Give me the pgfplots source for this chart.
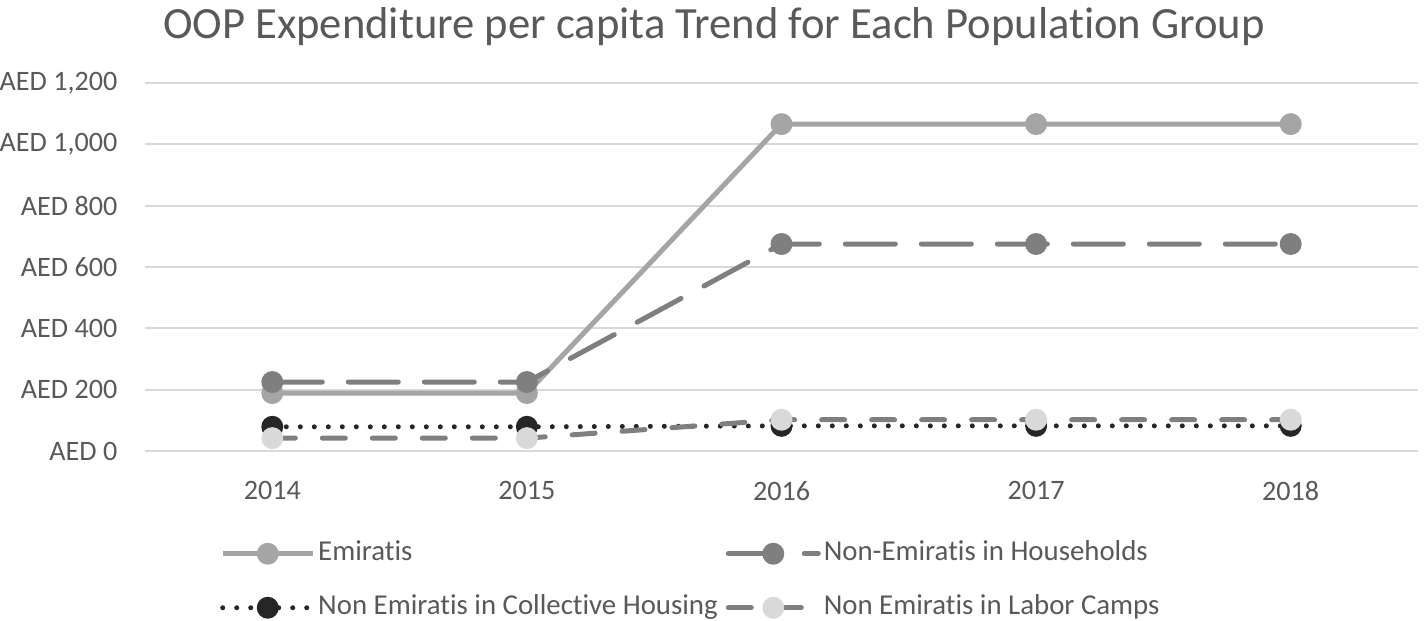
\documentclass[border=0pt]{standalone}
\usepackage{fontspec}
\setmainfont{Carlito}[Ligatures=NoCommon]
\usepackage{pgfplots}
\pgfplotsset{compat=1.18}
\definecolor{txt}{HTML}{595959}
\definecolor{gridc}{HTML}{D9D9D9}
\definecolor{emi}{HTML}{A5A5A5}
\definecolor{hh}{HTML}{7F7F7F}
\definecolor{colh}{HTML}{262626}
\definecolor{lab}{HTML}{D9D9D9}
\begin{document}
\begin{tikzpicture}
\begin{axis}[
  at={(0,0)}, anchor=south west,
  scale only axis, width=12.73cm, height=3.68cm,
  xmin=-0.5, xmax=4.5, ymin=0, ymax=1200,
  xtick={0,1,2,3,4}, xticklabels={2014,2015,2016,2017,2018},
  ytick={0,200,400,600,800,1000,1200},
  yticklabels={AED 0,AED 200,AED 400,AED 600,AED 800,{AED 1,000},{AED 1,200}},
  axis line style={draw=none},
  major tick length=0pt,
  ymajorgrids, grid style={gridc, line width=0.2mm},
  tick label style={font=\fontsize{8}{9.6}\selectfont, text=txt},
  yticklabel style={inner sep=0pt, xshift=-0.27cm},
  xticklabel style={inner sep=0pt, yshift=-0.3cm},
  title={OOP Expenditure per capita Trend for Each Population Group},
  title style={at={(axis description cs:0.447,1)}, anchor=base, yshift=0.23cm, font=\fontsize{12.7}{15}\selectfont, text=txt},
  clip=false,
  legend columns=2,
  legend cell align=left,
  legend image code/.code={\draw[mark repeat=2,mark phase=2,#1] plot coordinates {(0cm,0cm) (0.45cm,0cm) (0.9cm,0cm)};},
  legend style={draw=none, at={(axis description cs:0,0)}, anchor=north west, xshift=0.64cm, yshift=-0.82cm,
    font=\fontsize{8.2}{9.8}\selectfont, text=txt,
    nodes={inner sep=0pt, text height=2mm, text depth=0.6mm},
    /tikz/column sep=0.03cm, /tikz/every even column/.append style={column sep=0.08cm}, /tikz/row sep=2.8mm},
]
\addplot[emi, line width=0.5mm, mark=*, mark size=2.4pt, mark options={solid, fill=emi, draw=emi}]
  coordinates {(0,189) (1,189) (2,1066) (3,1066) (4,1066)};
\addlegendentry{Emiratis}
\addplot[hh, line width=0.5mm, line cap=round, dash pattern=on 5.0mm off 2.6mm, mark=*, mark size=2.4pt, mark options={solid, fill=hh, draw=hh}]
  coordinates {(0,225) (1,225) (2,675) (3,675) (4,675)};
\addlegendentry{Non-Emiratis in Households}
\addplot[colh, line width=0.5mm, line cap=round, dash pattern=on 0pt off 1.4mm, mark=*, mark size=2.4pt, mark options={solid, fill=colh, draw=colh}]
  coordinates {(0,79) (1,79) (2,82) (3,82) (4,82)};
\addlegendentry{Non Emiratis in Collective Housing}
\addplot[hh, line width=0.5mm, line cap=round, dash pattern=on 2.3mm off 2.7mm, mark=*, mark size=2.4pt, mark options={solid, fill=lab, draw=lab}]
  coordinates {(0,42) (1,42) (2,102) (3,102) (4,102)};
\addlegendentry{Non Emiratis in Labor Camps}
\end{axis}
\pgfresetboundingbox
\path[use as bounding box] (-1.45,-1.69) rectangle (12.79,4.51);
\end{tikzpicture}
\end{document}
